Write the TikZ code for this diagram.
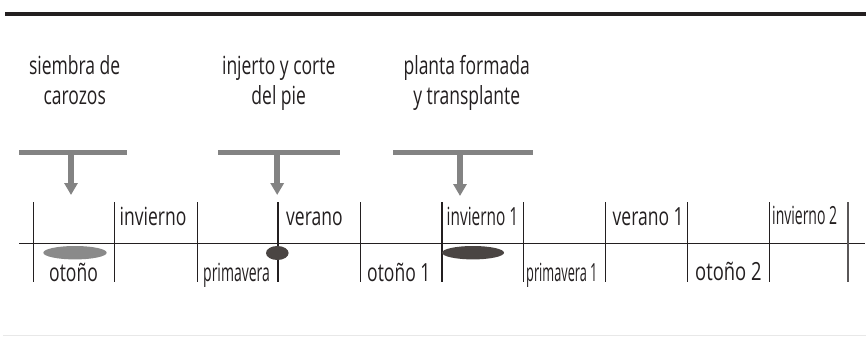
\documentclass[tikz,border=0pt]{standalone}
\usepackage{fontspec}
\setmainfont{Open Sans}[FakeStretch=0.7]
\newfontfamily\narrowfont{Open Sans}[FakeStretch=0.56]
\usetikzlibrary{arrows.meta}
\definecolor{ink}{HTML}{231F20}
\definecolor{arrowgray}{HTML}{838383}
\definecolor{blobgray}{HTML}{8A8A8A}
\definecolor{blobdark}{HTML}{4A4543}
\definecolor{rulelight}{HTML}{E8E8E8}
\tikzset{
  lbl/.style={inner sep=0pt, anchor=base west, text=ink, font=\fontsize{25}{30}\selectfont},
  nlbl/.style={lbl, font=\fontsize{25}{30}\selectfont\narrowfont},
  toplbl/.style={inner sep=0pt, anchor=base, align=center, text=ink, font=\fontsize{25}{30.5}\selectfont},
  barbox/.style={inner sep=0pt, minimum height=5.5pt, fill=arrowgray, draw=none},
  arr/.style={draw=arrowgray, line width=5.5pt, -{Triangle[width=13pt,length=12pt]}},
  tick/.style={draw=ink, line width=1.3pt}
}
\begin{document}
\begin{tikzpicture}[x=1pt,y=-1pt]
\useasboundingbox (0,0) rectangle (866,337);
% top and bottom rules
\fill[ink] (5,11.7) rectangle (866,16);
\draw[rulelight, line width=1pt] (3,335.5) -- (866,335.5);

% top labels
\node[toplbl] (t1) at (74.7,104.5) {siembra de\\carozos};
\node[toplbl] (t2) at (278.7,104.5) {injerto y corte\\del pie};
\node[toplbl] (t3) at (466.7,104.5) {planta formada\\y transplante};

% bars
\node[barbox, minimum width=107.7pt] (bar1) at (72.85,152.5) {};
\node[barbox, minimum width=121.7pt] (bar2) at (279.15,152.5) {};
\node[barbox, minimum width=139.4pt] (bar3) at (463,152.5) {};
\coordinate (tip1) at (71,195);
\coordinate (tip2) at (277.2,195);
\coordinate (tip3) at (460,196);
\draw[arr] (tip1 |- bar1.center) -- (tip1);
\draw[arr] (tip2 |- bar2.center) -- (tip2);
\draw[arr] (tip3 |- bar3.center) -- (tip3);

% timeline
\draw[tick] (19,243.3) -- (865,243.3);
\foreach \x in {33.7,114.7,197.3,278,360.7,442,523.7,605.7,687.7,769.3}
  \draw[tick] (\x,202.3) -- (\x,281.7);
\draw[tick, draw=ink!75] (848,202.3) -- (848,281.7);

% season labels
\node[lbl] (s1) at (119.5,225) {invierno};
\node[lbl] (s2) at (286,225) {verano};
\node[lbl] (s3) at (446.5,225) {\scalebox{0.88}[1]{invierno 1}};
\node[lbl] (s4) at (612.5,225) {verano 1};
\node[nlbl] (s5) at (772,224) {invierno 2};
\node[lbl] (s6) at (49,281) {otoño};
\node[nlbl] (s7) at (203,281) {primavera};
\node[lbl] (s8) at (367,281) {otoño 1};
\node[nlbl] (s9) at (526,281.5) {\scalebox{0.91}[1]{primavera 1}};
\node[lbl] (s10) at (695,280.5) {\scalebox{1.05}[1]{otoño 2}};

% blobs
\fill[blobgray] (75,252.7) ellipse [x radius=31.7pt, y radius=6.7pt];
\fill[blobdark] (277.3,253) ellipse [x radius=11.3pt, y radius=7pt];
\fill[blobdark] (473,252.7) ellipse [x radius=31pt, y radius=6.7pt];
\end{tikzpicture}
\end{document}
